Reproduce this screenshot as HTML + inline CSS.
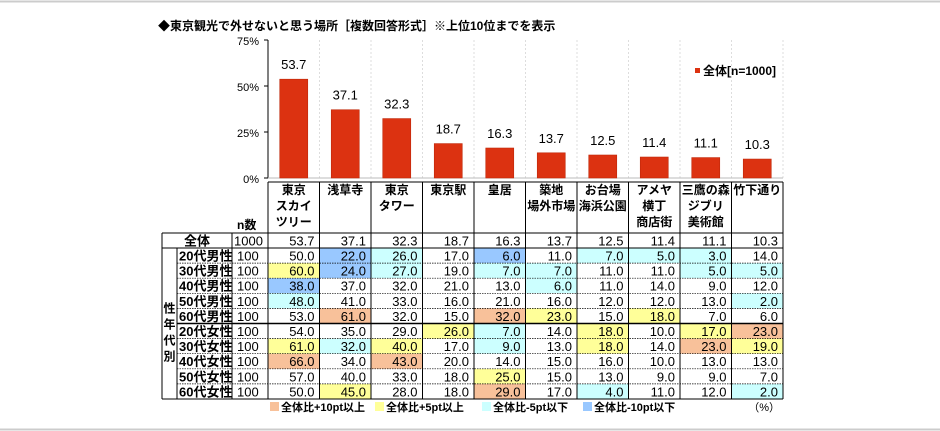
<!DOCTYPE html>
<html><head><meta charset="utf-8">
<style>
body{margin:0;background:#fff;}
svg{display:block;font-family:"Liberation Sans","Noto Sans CJK JP",sans-serif;}
</style></head>
<body>
<svg id="c" width="940" height="431" viewBox="0 0 940 431" xmlns="http://www.w3.org/2000/svg">
<line x1="0" y1="1.5" x2="940" y2="1.5" stroke="#ccc" stroke-width="2"/>
<line x1="0" y1="429.5" x2="940" y2="429.5" stroke="#ccc" stroke-width="2"/>
<text x="158" y="30" font-size="12" font-weight="bold" fill="#000">◆東京観光で外せないと思う場所［複数回答形式］※上位10位までを表示</text>
<g id="g"></g>
</svg>
<script>
const categories=[["東京","スカイ","ツリー"],["浅草寺"],["東京","タワー"],["東京駅"],["皇居"],["築地","場外市場"],["お台場","海浜公園"],["アメヤ","横丁","商店街"],["三鷹の森","ジブリ","美術館"],["竹下通り"]];
const totals=[53.7,37.1,32.3,18.7,16.3,13.7,12.5,11.4,11.1,10.3];
const rowLabels=["20代男性","30代男性","40代男性","50代男性","60代男性","20代女性","30代女性","40代女性","50代女性","60代女性"];
const rowN=[100,100,100,100,100,100,100,100,100,100];
const rows=[
[50,22,26,17,6,11,7,5,3,14],
[60,24,27,19,7,7,11,11,5,5],
[38,37,32,21,13,6,11,14,9,12],
[48,41,33,16,21,16,12,12,13,2],
[53,61,32,15,32,23,15,18,7,6],
[54,35,29,26,7,14,18,10,17,23],
[61,32,40,17,9,13,18,14,23,19],
[66,34,43,20,14,15,16,10,13,13],
[57,40,33,18,25,15,13,9,9,7],
[50,45,28,18,29,17,4,11,12,2]];
const yTicks=[0,25,50,75];
const legendItems=["全体比+10pt以上","全体比+5pt以上","全体比-5pt以下","全体比-10pt以下"];

const NS="http://www.w3.org/2000/svg";
const g=document.getElementById('g');
function el(t,a,txt){const e=document.createElementNS(NS,t);for(const k in a)e.setAttribute(k,a[k]);if(txt!==undefined)e.textContent=txt;g.appendChild(e);return e;}
const X0=268,X1=783,colW=(X1-X0)/totals.length;
const yTop=40,yBot=178;
const y=v=>yBot-(v/75)*(yBot-yTop);
const cx=i=>X0+colW*(i+0.5);
const colX=i=>X0+colW*i;

let e=el('line',{x1:X0,y1:yTop,x2:X0,y2:yBot,stroke:'#000'});

yTicks.forEach(t=>{
 let tl=el('text',{x:X0-9,y:y(t)+5,'font-size':11,'text-anchor':'end'},t+'%');
 
 let tk=el('line',{x1:X0-4,y1:y(t),x2:X0,y2:y(t),stroke:'#000'});
 
});
for(let i=1;i<=totals.length;i++){
 let gl=el('line',{x1:colX(i),y1:yTop,x2:colX(i),y2:yBot,stroke:'#ddd','stroke-dasharray':'2,2'});
 
}
el('line',{x1:X0,y1:yBot,x2:X1,y2:yBot,stroke:'#bbb'});
totals.forEach((v,i)=>{
 let b=el('rect',{x:cx(i)-14,y:y(v),width:28,height:yBot-y(v),fill:'#dc3211',stroke:'#c0280a','stroke-width':0.6});
 
 let l=el('text',{x:cx(i),y:y(v)-10,'font-size':13,'text-anchor':'middle'},v.toFixed(1));
 
});
let lr=el('rect',{x:695,y:68,width:5,height:5,fill:'#dc3211'});

let lt=el('text',{x:703,y:75,'font-size':12,'font-weight':'bold'},'全体[n=1000]');


const T0=162,GC=177,LC=232,hdrTop=182,totTop=233,rowH=15.1,totBot=248;
const tEnd=totBot+rowH*rows.length;
function color(d){return d>=10?'#f8c19a':d>=5?'#ffff99':d<=-10?'#99c8ff':d<=-5?'#ccffff':null;}
rows.forEach((r,ri)=>{
 const ty=totBot+ri*rowH;
 r.forEach((v,ci)=>{
  const c=color(v-totals[ci]);
  if(c){let rc=el('rect',{x:colX(ci),y:ty,width:colW,height:rowH,fill:c});
   }
  let t=el('text',{x:colX(ci+1)-5,y:ty+12.5,'font-size':13,'text-anchor':'end'},v.toFixed(1));
  
 });
 let rl=el('text',{x:GC+2,y:ty+12.5,'font-size':13,'font-weight':'bold'},rowLabels[ri]);
 
 let rn=el('text',{x:LC+5,y:ty+12.5,'font-size':13},rowN[ri]);
 
 if(ri>0){let sl=el('line',{x1:GC,y1:ty,x2:X1,y2:ty,stroke:'#000','stroke-width':ri===5?1.5:0.7,'stroke-dasharray':ri===5?'':'1.5,1'});
  }
});
let tl0=el('text',{x:(T0+LC)/2,y:totTop+12.5,'font-size':13,'font-weight':'bold','text-anchor':'middle'},'全体');

let tn=el('text',{x:LC+2,y:totTop+12.5,'font-size':13},'1000');

totals.forEach((v,ci)=>{let t=el('text',{x:colX(ci+1)-5,y:totTop+12.5,'font-size':13,'text-anchor':'end'},v.toFixed(1));
 });
let nh=el('text',{x:LC+5,y:totTop-4,'font-size':12,'font-weight':'bold'},'n数');

categories.forEach((lines,ci)=>{lines.forEach((s,li)=>{
 let t=el('text',{x:cx(ci),y:hdrTop+12+li*16,'font-size':12,'font-weight':'bold','text-anchor':'middle'},s);
 });});
"性年代別".split('').forEach((ch,i)=>{let t=el('text',{x:(T0+GC)/2,y:totBot+rowH*4+4+i*16,'font-size':12,'font-weight':'bold','text-anchor':'middle'},ch);
 });
const S={stroke:'#000','stroke-width':1};
[[X0,hdrTop,X1,hdrTop],[T0,totTop,X1,totTop],[T0,totBot,X1,totBot],[T0,tEnd,X1,tEnd],
 [T0,totTop,T0,tEnd],[GC,totBot,GC,tEnd],[LC,totTop,LC,tEnd],[X0,hdrTop,X0,tEnd],[X1,hdrTop,X1,tEnd]].forEach(a=>{
 let l=el('line',Object.assign({x1:a[0],y1:a[1],x2:a[2],y2:a[3]},S));
 });
for(let i=1;i<totals.length;i++){let l=el('line',Object.assign({x1:colX(i),y1:hdrTop,x2:colX(i),y2:tEnd},S));
 }
const lc=['#f8c19a','#ffff99','#ccffff','#99c8ff'],lx=[270,375,482,583];
legendItems.forEach((s,i)=>{
 let r=el('rect',{x:lx[i],y:402,width:9,height:9,fill:lc[i]});
 
 let t=el('text',{x:lx[i]+11,y:411,'font-size':11,'font-weight':'bold'},s);
 
});
let pu=el('text',{x:780,y:411,'font-size':11,'text-anchor':'end'},'（%）');

</script>
</body></html>
